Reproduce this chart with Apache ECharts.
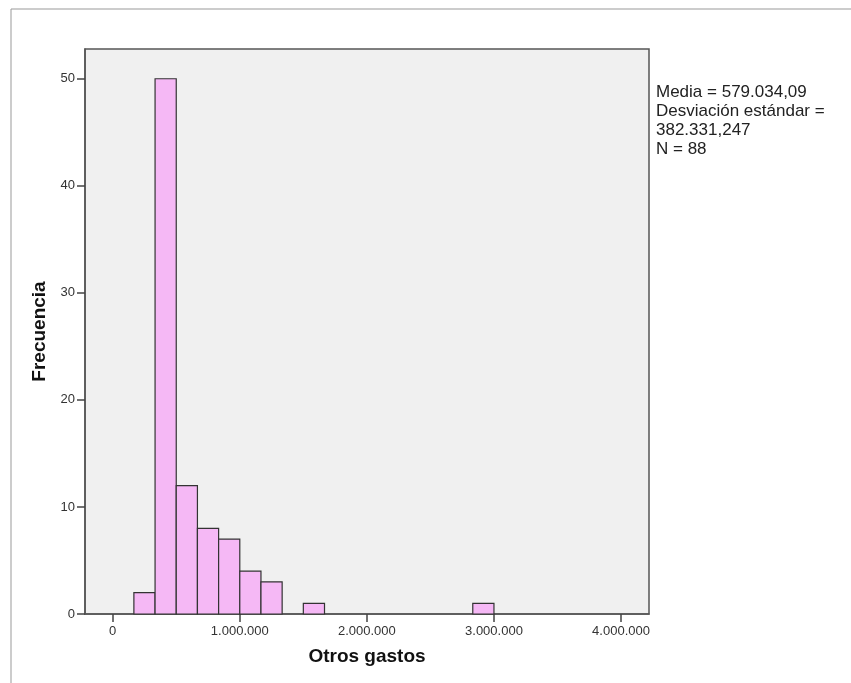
<!DOCTYPE html>
<html>
<head>
<meta charset="utf-8">
<script src="https://cdn.jsdelivr.net/npm/echarts@6/dist/echarts.min.js"></script>
<style>
html,body{margin:0;padding:0;background:#fff;}
#c{width:851px;height:683px;}
</style>
</head>
<body>
<div id="c"></div>
<script>
// Data
const binLow  = [166667, 333333, 500000, 666667, 833333, 1000000, 1166667, 1500000, 2833333];
const binHigh = [333333, 500000, 666667, 833333, 1000000, 1166667, 1333333, 1666667, 3000000];
const counts  = [2, 50, 12, 8, 7, 4, 3, 1, 1];
const xTicks = [0, 1000000, 2000000, 3000000, 4000000];
const yTicks = [0, 10, 20, 30, 40, 50];
const statsLines = ['Media = 579.034,09', 'Desviación estándar =', '382.331,247', 'N = 88'];
const xTitle = 'Otros gastos';
const yTitle = 'Frecuencia';

function fmt(v) {
  return String(Math.round(v)).replace(/\B(?=(\d{3})+(?!\d))/g, '.');
}

const chart = echarts.init(document.getElementById('c'), null, {renderer: 'canvas'});
const data = binLow.map((l, i) => [l, binHigh[i], counts[i]]);

chart.setOption({
  animation: false,
  backgroundColor: '#ffffff',
  grid: {
    left: 85, top: 49, right: 202, bottom: 69,
    show: true, backgroundColor: '#f0f0f0', borderColor: '#555', borderWidth: 1.5
  },
  xAxis: {
    type: 'value', min: -218000, max: 4220000,
    name: xTitle, nameLocation: 'middle', nameGap: 33,
    nameTextStyle: {fontFamily: 'Liberation Sans', fontWeight: 'bold', fontSize: 19, color: '#111'},
    axisLine: {show: true, onZero: false, lineStyle: {color: '#555', width: 1.5}},
    axisTick: {show: true, customValues: xTicks, length: 8, lineStyle: {color: '#444', width: 1.5}},
    axisLabel: {customValues: xTicks, formatter: fmt, margin: 11, fontFamily: 'Liberation Sans', fontSize: 13, color: '#333'},
    splitLine: {show: false}
  },
  yAxis: {
    type: 'value', min: 0, max: 52.78,
    name: yTitle, nameLocation: 'middle', nameGap: 36, nameRotate: 90,
    nameTextStyle: {fontFamily: 'Liberation Sans', fontWeight: 'bold', fontSize: 19, color: '#111'},
    axisLine: {show: true, onZero: false, lineStyle: {color: '#555', width: 1.5}},
    axisTick: {show: true, customValues: yTicks, length: 8, lineStyle: {color: '#444', width: 1.5}},
    axisLabel: {customValues: yTicks, margin: 10, fontFamily: 'Liberation Sans', fontSize: 13, color: '#333'},
    splitLine: {show: false}
  },
  series: [{
    type: 'custom',
    data: data,
    encode: {x: [0, 1], y: 2},
    renderItem: function (params, api) {
      const p0 = api.coord([api.value(0), api.value(2)]);
      const p1 = api.coord([api.value(1), 0]);
      return {
        type: 'rect',
        shape: {x: p0[0], y: p0[1], width: p1[0] - p0[0], height: p1[1] - p0[1]},
        style: {fill: '#f5b8f5', stroke: '#333', lineWidth: 1.2}
      };
    }
  }],
  graphic: [
    {type: 'line', shape: {x1: 11, y1: 9, x2: 851, y2: 9}, style: {stroke: '#999', lineWidth: 1}},
    {type: 'line', shape: {x1: 11, y1: 9, x2: 11, y2: 683}, style: {stroke: '#999', lineWidth: 1}},
    {type: 'text', left: 656, top: 83,
     style: {text: statsLines.join('\n'), font: '17px "Liberation Sans"', fill: '#222', lineHeight: 19}}
  ]
});
</script>
</body>
</html>
